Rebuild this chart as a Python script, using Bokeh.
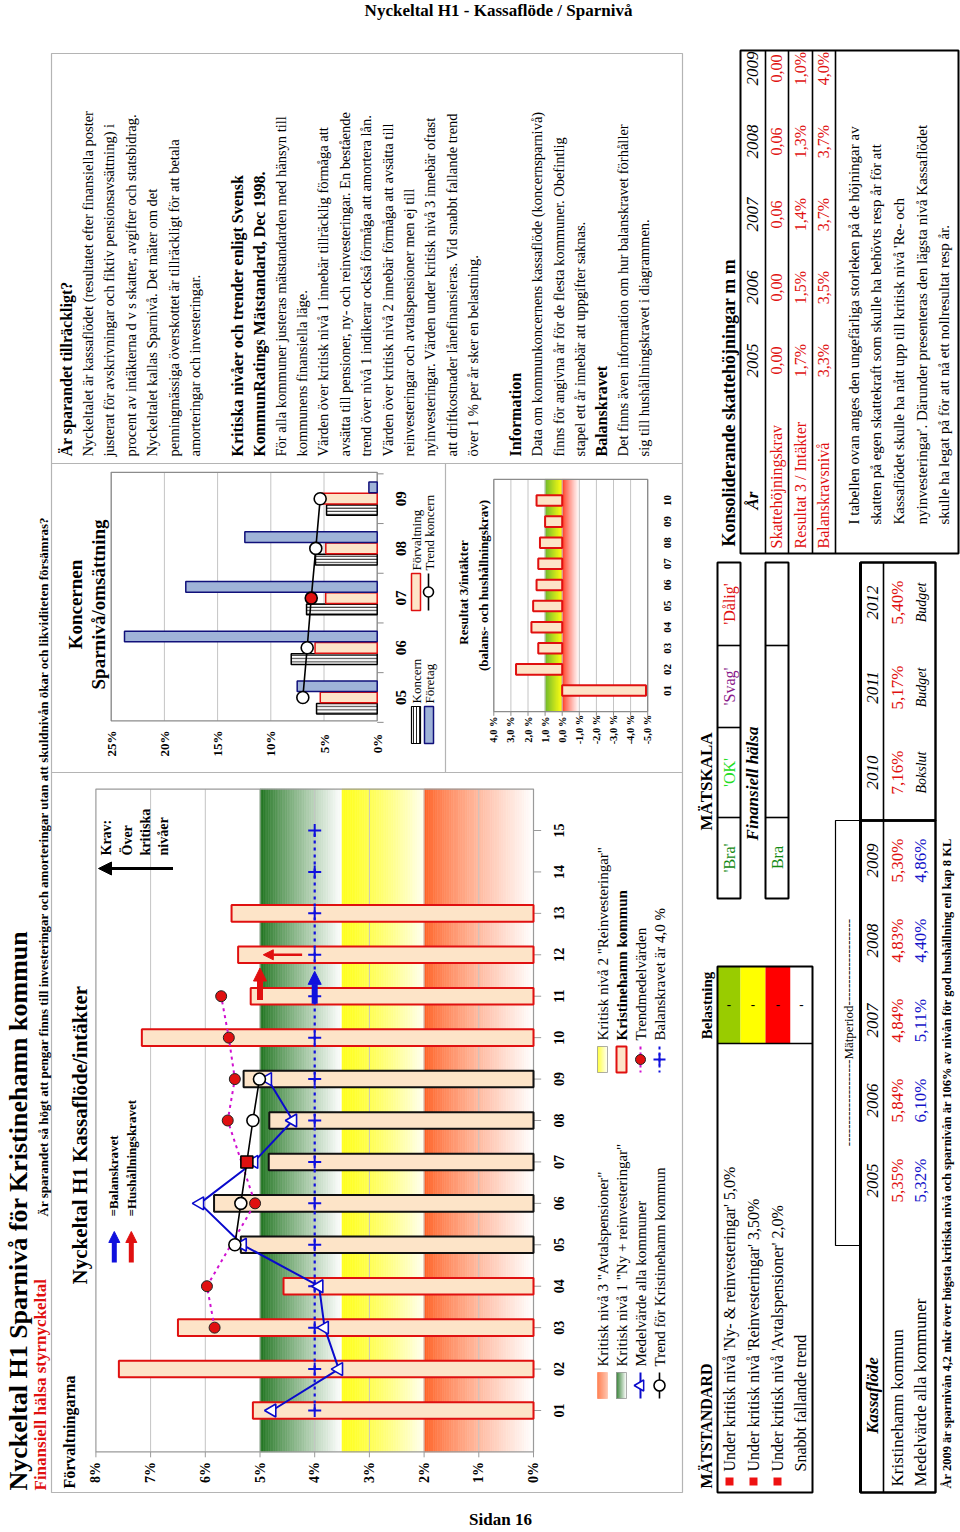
import math
from bokeh.plotting import figure
from bokeh.models import Range1d, Arrow, NormalHead
from bokeh.core.properties import value
from bokeh.embed import file_html
from bokeh.resources import INLINE

ROT = math.pi / 2
SERIF = "Liberation Serif"
W, H = 960, 1532

# ------------------------------------------------------------------ data
ar_etiketter = ["01", "02", "03", "04", "05", "06", "07", "08", "09", "10", "11", "12", "13", "14", "15"]
sparniva_kommun = [5.13, 7.58, 6.50, 4.57, 5.35, 5.84, 4.84, 4.83, 5.30, 7.16, 5.17, 5.40, 5.52]
matperiod_ar = ["05", "06", "07", "08", "09"]
medel_alla = [4.78, 3.56, 3.82, 3.92, 5.32, 6.10, 5.11, 4.40, 4.86]
trend_ar = ["05", "06", "07", "08", "09"]
trend_kommun = [5.46, 5.35, 5.24, 5.13, 5.01]
trendmedel_ar = ["03", "04", "06", "08", "09", "10", "11"]
trendmedel = [5.83, 5.97, 5.09, 5.59, 5.46, 5.57, 5.71]
balanskrav = 4.0
kritisk_niva_1 = 5.0
kritisk_niva_2 = 3.5
kritisk_niva_3 = 2.0
varde_ticks = [0, 1, 2, 3, 4, 5, 6, 7, 8]

koncern_ar = ["05", "06", "07", "08", "09"]
koncern = [5.70, 8.08, 6.64, 5.80, 4.76]
forvaltning = [5.35, 5.84, 4.84, 4.83, 5.30]
foretag = [7.52, 23.75, 17.99, 12.44, 0.78]
trend_koncern = [6.99, 6.58, 6.20, 5.77, 5.36]
koncern_ticks = [0, 5, 10, 15, 20, 25]

res_ar = ["01", "02", "03", "04", "05", "06", "07", "08", "09", "10"]
resultat3 = [-4.9, 2.7, 1.4, 1.8, 1.7, 1.5, 1.4, 1.3, 1.0, 1.5]
res_ticks = [4, 3, 2, 1, 0, -1, -2, -3, -4, -5]

period_ar = ["2005", "2006", "2007", "2008", "2009"]
budget_ar = ["2010", "2011", "2012"]
budget_typ = ["Bokslut", "Budget", "Budget"]
kassaflode_kommun = [5.35, 5.84, 4.84, 4.83, 5.30, 7.16, 5.17, 5.40]
kassaflode_medel = [5.32, 6.10, 5.11, 4.40, 4.86]

kons_ar = ["2005", "2006", "2007", "2008", "2009"]
skattehojning = [0.00, 0.00, 0.06, 0.06, 0.00]
res3_intakter = [1.7, 1.5, 1.4, 1.3, 1.0]
balanskravsniva = [3.3, 3.5, 3.7, 3.7, 4.0]

matskala = ["'Bra'", "'OK'", "'Svag'", "'Dålig'"]
matskala_farg = ["#138a13", "#22dd22", "#8a1a8a", "#e01010"]
belastning_farg = ["#99cc00", "#ffff00", "#ff0000", "#ffffff"]
matstandard = ["Under kritisk nivå 'Ny- & reinvesteringar' 5,0%",
               "Under kritisk nivå 'Reinvesteringar' 3,50%",
               "Under kritisk nivå 'Avtalspensioner' 2,0%",
               "Snabbt fallande trend"]

info_text = [
    ("Är sparandet tillräckligt?", True),
    ("Nyckeltalet är kassaflödet (resultatet efter finansiella poster", False),
    ("justerat för avskrivningar och fiktiv pensionsavsättning) i", False),
    ("procent av intäkterna d v s skatter, avgifter och statsbidrag.", False),
    ("Nyckeltalet kallas Sparnivå.  Det mäter om det", False),
    ("penningmässiga överskottet är tillräckligt för att betala", False),
    ("amorteringar och investeringar.", False),
    ("", False),
    ("Kritiska nivåer och trender enligt Svensk", True),
    ("KommunRatings Mätstandard, Dec 1998.", True),
    ("För alla kommuner justeras mätstandarden med hänsyn till", False),
    ("kommunens finansiella läge.", False),
    ("Värden över kritisk nivå 1 innebär tillräcklig förmåga att", False),
    ("avsätta till pensioner, ny- och reinvesteringar. En bestående", False),
    ("trend över nivå 1 indikerar också förmåga att amortera lån.", False),
    ("Värden över kritisk nivå 2 innebär förmåga att avsätta till", False),
    ("reinvesteringar och avtalspensioner men ej till", False),
    ("nyinvesteringar.  Värden under kritisk nivå 3 innebär oftast", False),
    ("att driftkostnader lånefinansieras.  Vid snabbt fallande trend", False),
    ("över 1 % per år sker en belastning.", False),
    ("", False),
    ("Information", True),
    ("Data om kommunkoncernens kassaflöde (koncernsparnivå)", False),
    ("finns för angivna år för de flesta kommuner. Obefintlig", False),
    ("stapel ett år innebär att uppgifter saknas.", False),
    ("Balanskravet", True),
    ("Det finns även information om hur balanskravet förhåller", False),
    ("sig till hushållningskravet i diagrammen.", False),
]

kons_text = [
    "I tabellen ovan anges den ungefärliga storleken på de höjningar av",
    "skatten på egen skattekraft som skulle ha behövts resp år för att",
    "Kassaflödet skulle ha nått upp till  kritisk nivå 'Re- och",
    "nyinvesteringar'. Därunder presenteras den lägsta nivå Kassaflödet",
    "skulle ha legat på för att nå ett nollresultat resp år.",
]

main_legend_left = ['Kritisk nivå 3 "Avtalspensioner"', 'Kritisk nivå 1 "Ny + reinvesteringar"',
                    "Medelvärde alla kommuner", "Trend för Kristinehamn kommun"]
main_legend_right = ['Kritisk nivå 2 "Reinvesteringar"', "Kristinehamn kommun", "Trendmedelvärden",
                     "Balanskravet är 4,0 %"]


def pct(v, d=2):
    return (f"{v:.{d}f}").replace(".", ",") + "%"


# ------------------------------------------------------------------ canvas (pixel coordinates)
p = figure(width=W, height=H, x_range=Range1d(0, W), y_range=Range1d(H, 0),
           output_backend="svg", toolbar_location=None, min_border=0,
           x_axis_type=None, y_axis_type=None)
p.outline_line_color = None
p.background_fill_color = "white"
p.border_fill_color = "white"


def rng_x(v1, p1, v2, p2):
    k = (v2 - v1) / (p2 - p1)
    return Range1d(start=v1 + (0 - p1) * k, end=v1 + (W - p1) * k)


def rng_y(v1, p1, v2, p2):
    k = (v2 - v1) / (p2 - p1)
    return Range1d(start=v1 + (H - p1) * k, end=v1 + (0 - p1) * k)


p.extra_x_ranges = {"mv": rng_x(0, 533, 8, 95.4),
                    "kv": rng_x(0, 376.7, 25, 110.7),
                    "rv": rng_x(0, 561.7, 4, 493.3)}
p.extra_y_ranges = {"mc": rng_y(1, 1410, 15, 830),
                    "kc": rng_y(0, 697, 4, 498.2),
                    "rc": rng_y(1, 690, 10, 500)}


def L(v):
    return v if isinstance(v, list) else [v]


def txt(x, y, t, size, color="black", style="normal", align="left", baseline="middle",
        angle=ROT, xr="default", yr="default", font=SERIF):
    ts = L(t)
    n = len(ts)
    xs = L(x) if isinstance(x, list) else [x] * n
    ys = L(y) if isinstance(y, list) else [y] * n
    p.text(x=xs, y=ys, text=ts, angle=angle, text_font=value(font),
           text_font_size=value(f"{size}px"), text_color=color, text_font_style=style,
           text_align=align, text_baseline=baseline, x_range_name=xr, y_range_name=yr)


def ln(xs, ys, color="black", width=1.0, dash="solid", xr="default", yr="default"):
    p.line(x=xs, y=ys, line_color=color, line_width=width, line_dash=dash,
           x_range_name=xr, y_range_name=yr)


def box(x0, y0, x1, y1, color="black", width=1.0, fill=None, xr="default", yr="default"):
    p.quad(left=x0, right=x1, top=y0, bottom=y1, fill_color=fill, line_color=color,
           line_width=width, x_range_name=xr, y_range_name=yr)


def hexmix(c1, c2, t):
    a = [int(c1[i:i + 2], 16) for i in (1, 3, 5)]
    b = [int(c2[i:i + 2], 16) for i in (1, 3, 5)]
    return "#%02x%02x%02x" % tuple(int(round(a[j] + (b[j] - a[j]) * t)) for j in range(3))


def gradient(v_from, v_to, c_from, c_to, bottom, top, xr="default", yr="default", n=48, gamma=1.0):
    lefts, rights, cols = [], [], []
    for i in range(n):
        t0, t1 = i / n, (i + 1) / n
        lefts.append(v_from + (v_to - v_from) * t0)
        rights.append(v_from + (v_to - v_from) * t1)
        cols.append(hexmix(c_from, c_to, ((t0 + t1) / 2) ** gamma))
    p.quad(left=lefts, right=rights, bottom=bottom, top=top, fill_color=cols, line_color=cols,
           line_width=0.6, x_range_name=xr, y_range_name=yr)


GRAY = "#b4b4b4"
PEACH = "#fde4c8"
RED = "#e01010"
BLUE = "#1010dd"

# ------------------------------------------------------------------ page header / panels
txt(498, 10, "Nyckeltal H1 - Kassaflöde / Sparnivå", 17, style="bold", align="center", angle=0)
txt(500, 1519, "Sidan 16", 17, style="bold", align="center", angle=0)

box(51, 53, 682, 1492, color=GRAY, width=1.2)
ln([51, 682], [463, 463], GRAY, 1.2)
ln([51, 682], [772, 772], GRAY, 1.2)
ln([445, 445], [463, 772], GRAY, 1.2)

txt(18, 1490, "Nyckeltal H1 Sparnivå för Kristinehamn kommun", 26, style="bold")
txt(40, 1490, "Finansiell hälsa styrnyckeltal", 17, color=RED, style="bold")
txt(43, 1216, "Är sparandet så högt att pengar finns till investeringar och amorteringar utan att "
    "skuldnivån ökar och likviditeten försämras?", 13, style="bold")

# ------------------------------------------------------------------ info text block
for i, (line, bold) in enumerate(info_text):
    if line:
        txt(66 + i * 21.4, 456, line, 16 if bold else 14.5, style="bold" if bold else "normal")

# ------------------------------------------------------------------ main chart
N = len(ar_etiketter)
idx = {a: i + 1 for i, a in enumerate(ar_etiketter)}
gradient(kritisk_niva_1, kritisk_niva_2, "#1b711b", "#ffffff", 0, 16, "mv", "mc", gamma=0.85)
gradient(kritisk_niva_2, kritisk_niva_3, "#ffff20", "#fffff0", 0, 16, "mv", "mc", gamma=1.3)
gradient(kritisk_niva_3, 0, "#ff5f22", "#ffffff", 0, 16, "mv", "mc", gamma=0.8)
p.segment(x0=varde_ticks[1:-1], x1=varde_ticks[1:-1], y0=0, y1=16, line_color="#c4c4c4",
          line_width=1, x_range_name="mv", y_range_name="mc")
box(8, 16, 0, 0, color="#9a9a9a", width=1.2, xr="mv", yr="mc")
p.segment(x0=varde_ticks, x1=varde_ticks, y0=0, y1=-0.13, line_color="#9a9a9a",
          x_range_name="mv", y_range_name="mc")
p.segment(x0=0, x1=-0.14, y0=list(range(1, N + 1)), y1=list(range(1, N + 1)), line_color="#9a9a9a",
          x_range_name="mv", y_range_name="mc")

bar_y = [i + 1 for i in range(len(sparniva_kommun))]
kant = ["#111111" if ar_etiketter[i - 1] in matperiod_ar else RED for i in bar_y]
p.hbar(y=bar_y, left=0, right=sparniva_kommun, height=0.4, fill_color=PEACH, line_color=kant,
       line_width=2, x_range_name="mv", y_range_name="mc")

p.line(x=[balanskrav, balanskrav], y=[1, N], line_color=BLUE, line_width=2.2, line_dash="3 4",
       x_range_name="mv", y_range_name="mc")
p.scatter(x=[balanskrav] * N, y=list(range(1, N + 1)), marker="cross", size=13, line_color=BLUE,
          line_width=2, x_range_name="mv", y_range_name="mc")

ty = [idx[a] for a in trendmedel_ar]
p.line(x=trendmedel, y=ty, line_color="#d010d0", line_width=2, line_dash="3 4",
       x_range_name="mv", y_range_name="mc")
p.scatter(x=trendmedel, y=ty, marker="circle", size=11, fill_color=RED, line_color="#222222",
          line_width=1, x_range_name="mv", y_range_name="mc")

my = list(range(1, len(medel_alla) + 1))
p.line(x=medel_alla, y=my, line_color="#0a0acc", line_width=2, x_range_name="mv", y_range_name="mc")
p.scatter(x=medel_alla, y=my, marker="triangle", angle=ROT, size=13, fill_color="white",
          line_color="#0a0acc", line_width=1.6, x_range_name="mv", y_range_name="mc")

tky = [idx[a] for a in trend_ar]
p.line(x=trend_kommun, y=tky, line_color="black", line_width=1.6, x_range_name="mv", y_range_name="mc")
mk = ["square" if a == "07" else "circle" for a in trend_ar]
fc = [RED if a == "07" else "white" for a in trend_ar]
p.scatter(x=trend_kommun, y=tky, marker=mk, size=12, fill_color=fc, line_color="black",
          line_width=1.6, x_range_name="mv", y_range_name="mc")

p.add_layout(Arrow(end=NormalHead(size=13, fill_color=BLUE, line_color=BLUE), x_start=balanskrav,
                   y_start=10.82, x_end=balanskrav, y_end=11.6, line_color=BLUE, line_width=6,
                   x_range_name="mv", y_range_name="mc"))
p.add_layout(Arrow(end=NormalHead(size=13, fill_color=RED, line_color=RED), x_start=kritisk_niva_1,
                   y_start=10.91, x_end=kritisk_niva_1, y_end=11.68, line_color=RED, line_width=6,
                   x_range_name="mv", y_range_name="mc"))
p.add_layout(Arrow(end=NormalHead(size=10, fill_color=RED, line_color=RED), x_start=4.23,
                   y_start=12.0, x_end=4.94, y_end=12.0, line_color=RED, line_width=2.5,
                   x_range_name="mv", y_range_name="mc"))

txt(558, list(range(1, N + 1)), ar_etiketter, 14, style="bold", align="center", yr="mc")
txt(varde_ticks, 1472, [f"{v}%" for v in varde_ticks], 14, style="bold", align="center", xr="mv")

txt(69, 1488, "Förvaltningarna", 16, style="bold")
txt(79, 1284, "Nyckeltal H1 Kassaflöde/intäkter", 21, style="bold")
txt(113, 1216, "=Balanskravet", 13, style="bold")
txt(131, 1216, "=Hushållningskravet", 13, style="bold")
p.add_layout(Arrow(end=NormalHead(size=11, fill_color=BLUE, line_color=BLUE), x_start=113.8, y_start=1262,
                   x_end=113.8, y_end=1231, line_color=BLUE, line_width=5))
p.add_layout(Arrow(end=NormalHead(size=11, fill_color=RED, line_color=RED), x_start=130.8, y_start=1262,
                   x_end=130.8, y_end=1231, line_color=RED, line_width=5))

txt([106, 127, 145, 163], 855, ["Krav:", "Över", "kritiska", "nivåer"], 14, style="bold")
p.add_layout(Arrow(end=NormalHead(size=13, fill_color="black", line_color="black"), x_start=172.5,
                   y_start=868, x_end=98, y_end=868, line_color="black", line_width=3))

# legend of main chart
lx = [602, 621, 640, 659]
gradient(lx[0] - 5, lx[0] + 5, "#ff7a4a", "#ffc0a8", 1398, 1372, n=10)
gradient(lx[1] - 5, lx[1] + 5, "#2a7a2a", "#ffffff", 1398, 1372, n=10)
box(lx[1] - 5, 1372, lx[1] + 5, 1398, color="#999999", width=0.8)
ln([lx[2], lx[2]], [1372, 1398], "#0a0acc", 2)
p.scatter(x=[lx[2]], y=[1385], marker="triangle", angle=ROT, size=11, fill_color="white",
          line_color="#0a0acc", line_width=1.5)
ln([lx[3], lx[3]], [1372, 1398], "black", 1.6)
p.scatter(x=[lx[3]], y=[1385], marker="circle", size=11, fill_color="white", line_color="black",
          line_width=1.6)
txt(lx, 1366, main_legend_left, 15)

gradient(lx[0] - 5, lx[0] + 5, "#ffff30", "#fffff4", 1072, 1046, n=10)
box(lx[0] - 5, 1046, lx[0] + 5, 1072, color="#999999", width=0.8)
box(lx[1] - 5, 1046, lx[1] + 5, 1072, color=RED, width=2, fill=PEACH)
ln([lx[2], lx[2]], [1046, 1072], "#d010d0", 2, "3 3")
p.scatter(x=[lx[2]], y=[1059], marker="circle", size=10, fill_color=RED, line_color="#222222")
ln([lx[3], lx[3]], [1046, 1072], BLUE, 2, "3 3")
p.scatter(x=[lx[3]], y=[1059], marker="cross", size=12, line_color=BLUE, line_width=2)
txt([lx[0], lx[2], lx[3]], 1040, [main_legend_right[0], main_legend_right[2], main_legend_right[3]], 15)
txt(lx[1], 1040, main_legend_right[1], 15, style="bold")

# ------------------------------------------------------------------ Koncernen chart
K = len(koncern_ar)
kj = list(range(K))
p.segment(x0=koncern_ticks[1:-1], x1=koncern_ticks[1:-1], y0=-0.47, y1=4.53, line_color="#c4c4c4",
          x_range_name="kv", y_range_name="kc")
box(25, 4.53, 0, -0.47, color="#8c8c8c", width=1.4, xr="kv", yr="kc")
p.segment(x0=0, x1=-0.6, y0=[j - 0.5 for j in range(K + 1)], y1=[j - 0.5 for j in range(K + 1)],
          line_color="#8c8c8c", x_range_name="kv", y_range_name="kc")
p.hbar(y=[j - 0.227 for j in kj], left=0, right=koncern, height=0.215, fill_color="white",
       hatch_pattern="horizontal_line", hatch_color="#222222", hatch_scale=3.2, hatch_weight=1,
       line_color="black", line_width=1.5, x_range_name="kv", y_range_name="kc")
p.hbar(y=kj, left=0, right=forvaltning, height=0.215, fill_color=PEACH, line_color=RED,
       line_width=1.5, x_range_name="kv", y_range_name="kc")
p.hbar(y=[j + 0.227 for j in kj], left=0, right=foretag, height=0.215, fill_color="#9fb3d8",
       line_color="#10107a", line_width=1.5, x_range_name="kv", y_range_name="kc")
p.line(x=trend_koncern, y=kj, line_color="black", line_width=1.6, x_range_name="kv", y_range_name="kc")
p.scatter(x=trend_koncern, y=kj, marker="circle", size=12,
          fill_color=[RED if a == "07" else "white" for a in koncern_ar], line_color="black",
          line_width=1.6, x_range_name="kv", y_range_name="kc")
txt(koncern_ticks, 743, [f"{v}%" for v in koncern_ticks], 13, style="bold", align="center", xr="kv")
txt(400, kj, koncern_ar, 15, style="bold", align="center", yr="kc")
txt(75, 604, "Koncernen", 19, style="bold", align="center")
txt(98, 604, "Sparnivå/omsättning", 19, style="bold", align="center")
p.quad(left=411, right=420, top=706, bottom=743, fill_color="white", hatch_pattern="vertical_line",
       hatch_color="#222222", hatch_scale=3, line_color="black", line_width=1.2)
box(424, 706, 433, 743, color="#10107a", width=1.5, fill="#9fb3d8")
box(411, 573, 420, 610, color=RED, width=1.5, fill=PEACH)
ln([428, 428], [573, 610], "black", 1.6)
p.scatter(x=[428], y=[591.5], marker="circle", size=10, fill_color="white", line_color="black",
          line_width=1.6)
txt(416, 703, "Koncern", 13)
txt(429, 703, "Företag", 13)
txt(416, 570, "Förvaltning", 13)
txt(429, 570, "Trend koncern", 13)

# ------------------------------------------------------------------ Resultat 3 chart
R = len(res_ar)
gradient(1, 0, "#6db82a", "#ffff10", 0, 11, "rv", "rc", n=30)
gradient(0, -1, "#ff2a10", "#ffffff", 0, 11, "rv", "rc", n=30, gamma=0.8)
p.segment(x0=res_ticks[1:-1], x1=res_ticks[1:-1], y0=0, y1=11, line_color="#c4c4c4",
          x_range_name="rv", y_range_name="rc")
box(4, 11, -5, 0, color="#8c8c8c", width=1.4, xr="rv", yr="rc")
p.segment(x0=res_ticks, x1=res_ticks, y0=0, y1=-0.2, line_color="#8c8c8c",
          x_range_name="rv", y_range_name="rc")
ry = list(range(1, R + 1))
p.hbar(y=ry, left=0, right=resultat3, height=0.5, fill_color=PEACH, line_color=RED, line_width=2,
       x_range_name="rv", y_range_name="rc")
txt(res_ticks, 729, [(f"{v:.1f}").replace(".", ",") + " %" for v in res_ticks], 10.5, style="bold",
    align="center", xr="rv")
txt(667, ry, res_ar, 11, style="bold", align="center", yr="rc")
txt(463, 592, "Resultat 3/intäkter", 13, style="bold", align="center")
txt(483, 585, "(balans- och hushållningskrav)", 13, style="bold", align="center")

# ------------------------------------------------------------------ Konsoliderande table
txt(728, 546, "Konsoliderande skattehöjningar m m", 18, style="bold")
box(740, 50, 958, 553, color="black", width=2)
for xx in [765, 788, 812, 835]:
    ln([xx, xx], [50, 553], "black", 1.6)
ky = [360, 287, 214, 141, 68]
txt(752, 500, "År", 17, style="bold italic", align="center")
txt(752, ky, kons_ar, 17, style="italic", align="center")
txt([776, 800, 823], 548, ["Skattehöjningskrav", "Resultat 3 / Intäkter", "Balanskravsnivå"], 16, color=RED)
txt(776, ky, [(f"{v:.2f}").replace(".", ",") for v in skattehojning], 16, color=RED, align="center")
txt(800, ky, [pct(v, 1) for v in res3_intakter], 16, color=RED, align="center")
txt(823, ky, [pct(v, 1) for v in balanskravsniva], 16, color=RED, align="center")
txt([853 + i * 22.7 for i in range(len(kons_text))], 524, kons_text, 15)

# ------------------------------------------------------------------ Mätskala
txt(706, 781, "MÄTSKALA", 17, style="bold", align="center")
mb = [898, 817, 727, 645, 562]
box(717, 562, 740, 898, color="black", width=2)
for yy in mb[1:-1]:
    ln([717, 740], [yy, yy], "black", 1.6)
txt(729, [(mb[i] + mb[i + 1]) / 2 for i in range(4)], matskala, 16, color=matskala_farg, align="center")
txt(752, 783, "Finansiell hälsa", 17, style="bold italic", align="center")
box(765, 562, 788, 898, color="black", width=2)
for yy in [817, 645]:
    ln([765, 788], [yy, yy], "black", 1.6)
txt(777, 857, "Bra", 16, color=matskala_farg[0], align="center")

# ------------------------------------------------------------------ Mätstandard / Belastning
txt(706, 1488, "MÄTSTANDARD", 16, style="bold")
txt(706, 1005, "Belastning", 15, style="bold", align="center")
bx = [717, 740, 765, 790, 812]
for i in range(4):
    box(bx[i], 966, bx[i + 1], 1043, color=None, fill=belastning_farg[i])
    txt((bx[i] + bx[i + 1]) / 2, 1004.5, "-", 13, style="bold", align="center", angle=0)
box(717, 966, 812, 1492, color="black", width=2)
ln([717, 812], [1043, 1043], "black", 1.6)
sx = [729, 753, 777, 800]
p.scatter(x=sx[:3], y=[1481] * 3, marker="square", size=8, fill_color="#ee1111", line_color=None)
txt(sx, 1471, matstandard, 16)

# ------------------------------------------------------------------ Kassaflöde table
box(835, 820, 860, 1245, color="black", width=1.2)
txt(847.5, 1032, "-" * 20 + "Mätperiod" + "-" * 20, 13, align="center")
box(860, 820, 935, 1492, color="black", width=2.4)
box(860, 562, 935, 820, color="black", width=2.4)
ln([860, 860], [562, 1492], "black", 3)
ln([883, 883], [562, 1492], "black", 1.6)
txt(872, 1395, "Kassaflöde", 17, style="bold italic", align="center")
txt(897, 1486, "Kristinehamn kommun", 17)
txt(920, 1486, "Medelvärde alla kommuner", 17)
py_ = [1180, 1100, 1020, 940, 860]
by_ = [772, 687, 602]
txt(872, py_ + by_, period_ar + budget_ar, 17, style="italic", align="center")
txt(897, py_ + by_, [pct(v) for v in kassaflode_kommun], 17, color=RED, align="center")
txt(920, py_, [pct(v) for v in kassaflode_medel], 17, color="#1414c8", align="center")
txt(921, by_, budget_typ, 14, style="italic", align="center")

txt(946, 1488, "År 2009 är sparnivån 4,2 mkr över högsta kritiska nivå  och sparnivån är 106% av "
    "nivån för god hushållning enl kap 8 KL", 12.5, style="bold")

open("out.html", "w").write(file_html(p, INLINE))
